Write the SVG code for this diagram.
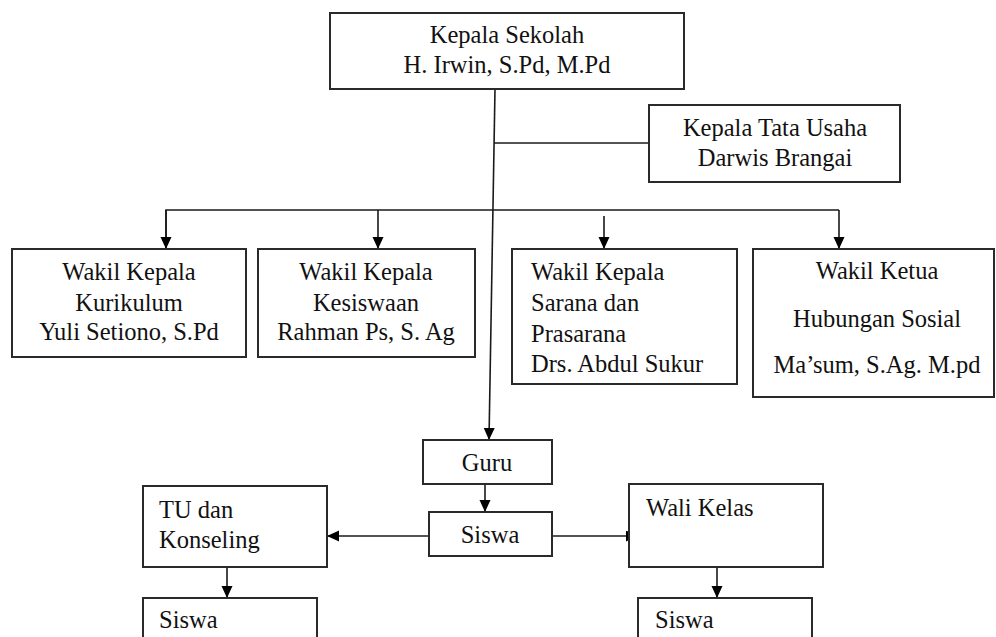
<svg xmlns="http://www.w3.org/2000/svg" width="996" height="637" viewBox="0 0 996 637">
<style>
.box{fill:#fff;stroke:#2a2a2a;stroke-width:2}
.t{font-family:"Liberation Serif","Times New Roman",serif;font-size:24.5px;fill:#111}
.c{text-anchor:middle}
.ln{fill:none;stroke:#1a1a1a;stroke-width:1.6}
.ar{marker-end:url(#ah)}
</style>
<defs>
<marker id="ah" markerUnits="userSpaceOnUse" markerWidth="13" markerHeight="12" refX="12" refY="5.5" orient="auto">
<path d="M0,0 L12,5.5 L0,11 z" fill="#000"/>
</marker>
</defs>
<rect width="996" height="637" fill="#fff"/>
<g id="connectors">
<line class="ln ar" x1="495" y1="89" x2="489" y2="440"/>
<line class="ln" x1="494" y1="143" x2="649" y2="143"/>
<polyline class="ln" points="166,249 166,210 839,210"/>
<line class="ln ar" x1="166" y1="210" x2="166" y2="249"/>
<line class="ln ar" x1="378" y1="210" x2="378" y2="249"/>
<line class="ln ar" x1="604" y1="216" x2="604" y2="249"/>
<line class="ln ar" x1="839" y1="210" x2="839" y2="249"/>
<line class="ln ar" x1="485" y1="484" x2="485" y2="512"/>
<line class="ln ar" x1="429" y1="536" x2="327" y2="536"/>
<line class="ln ar" x1="552" y1="536" x2="638" y2="536"/>
<line class="ln ar" x1="227" y1="556" x2="227" y2="598"/>
<line class="ln ar" x1="717" y1="556" x2="717" y2="598"/>
</g>
<g id="kepala-sekolah">
<rect class="box" x="330" y="13" width="354" height="76"/>
<text class="t c" x="507" y="43">Kepala Sekolah</text>
<text class="t c" x="507" y="73">H. Irwin, S.Pd, M.Pd</text>
</g>
<g id="kepala-tu">
<rect class="box" x="649" y="105" width="251" height="77"/>
<text class="t c" x="775" y="136">Kepala Tata Usaha</text>
<text class="t c" x="775" y="166">Darwis Brangai</text>
</g>
<g id="wakil-kurikulum">
<rect class="box" x="12" y="249" width="234" height="108"/>
<text class="t c" x="129" y="280">Wakil Kepala</text>
<text class="t c" x="129" y="311">Kurikulum</text>
<text class="t c" x="129" y="340">Yuli Setiono, S.Pd</text>
</g>
<g id="wakil-kesiswaan">
<rect class="box" x="258" y="249" width="217" height="108"/>
<text class="t c" x="366" y="280">Wakil Kepala</text>
<text class="t c" x="366" y="311">Kesiswaan</text>
<text class="t c" x="366" y="340">Rahman Ps, S. Ag</text>
</g>
<g id="wakil-sarana">
<rect class="box" x="512" y="249" width="225" height="135"/>
<text class="t" x="531" y="280">Wakil Kepala</text>
<text class="t" x="531" y="311">Sarana dan</text>
<text class="t" x="531" y="342">Prasarana</text>
<text class="t" x="531" y="372">Drs. Abdul Sukur</text>
</g>
<g id="wakil-humas">
<rect class="box" x="753" y="249" width="241" height="148"/>
<text class="t c" x="877" y="279">Wakil Ketua</text>
<text class="t c" x="877" y="327">Hubungan Sosial</text>
<text class="t c" x="877" y="373">Ma’sum, S.Ag. M.pd</text>
</g>
<g id="guru">
<rect class="box" x="423" y="440" width="129" height="44"/>
<text class="t c" x="487" y="471">Guru</text>
</g>
<g id="siswa">
<rect class="box" x="429" y="512" width="123" height="44"/>
<text class="t c" x="490" y="543">Siswa</text>
</g>
<g id="tu-konseling">
<rect class="box" x="143" y="486" width="184" height="81"/>
<text class="t" x="159" y="518">TU dan</text>
<text class="t" x="159" y="548">Konseling</text>
</g>
<g id="wali-kelas">
<rect class="box" x="629" y="484" width="194" height="83"/>
<text class="t" x="646" y="516">Wali Kelas</text>
</g>
<g id="siswa-tu">
<rect class="box" x="143" y="598" width="174" height="60"/>
<text class="t" x="159" y="628">Siswa</text>
</g>
<g id="siswa-wali">
<rect class="box" x="638" y="598" width="174" height="60"/>
<text class="t" x="655" y="628">Siswa</text>
</g>
</svg>
